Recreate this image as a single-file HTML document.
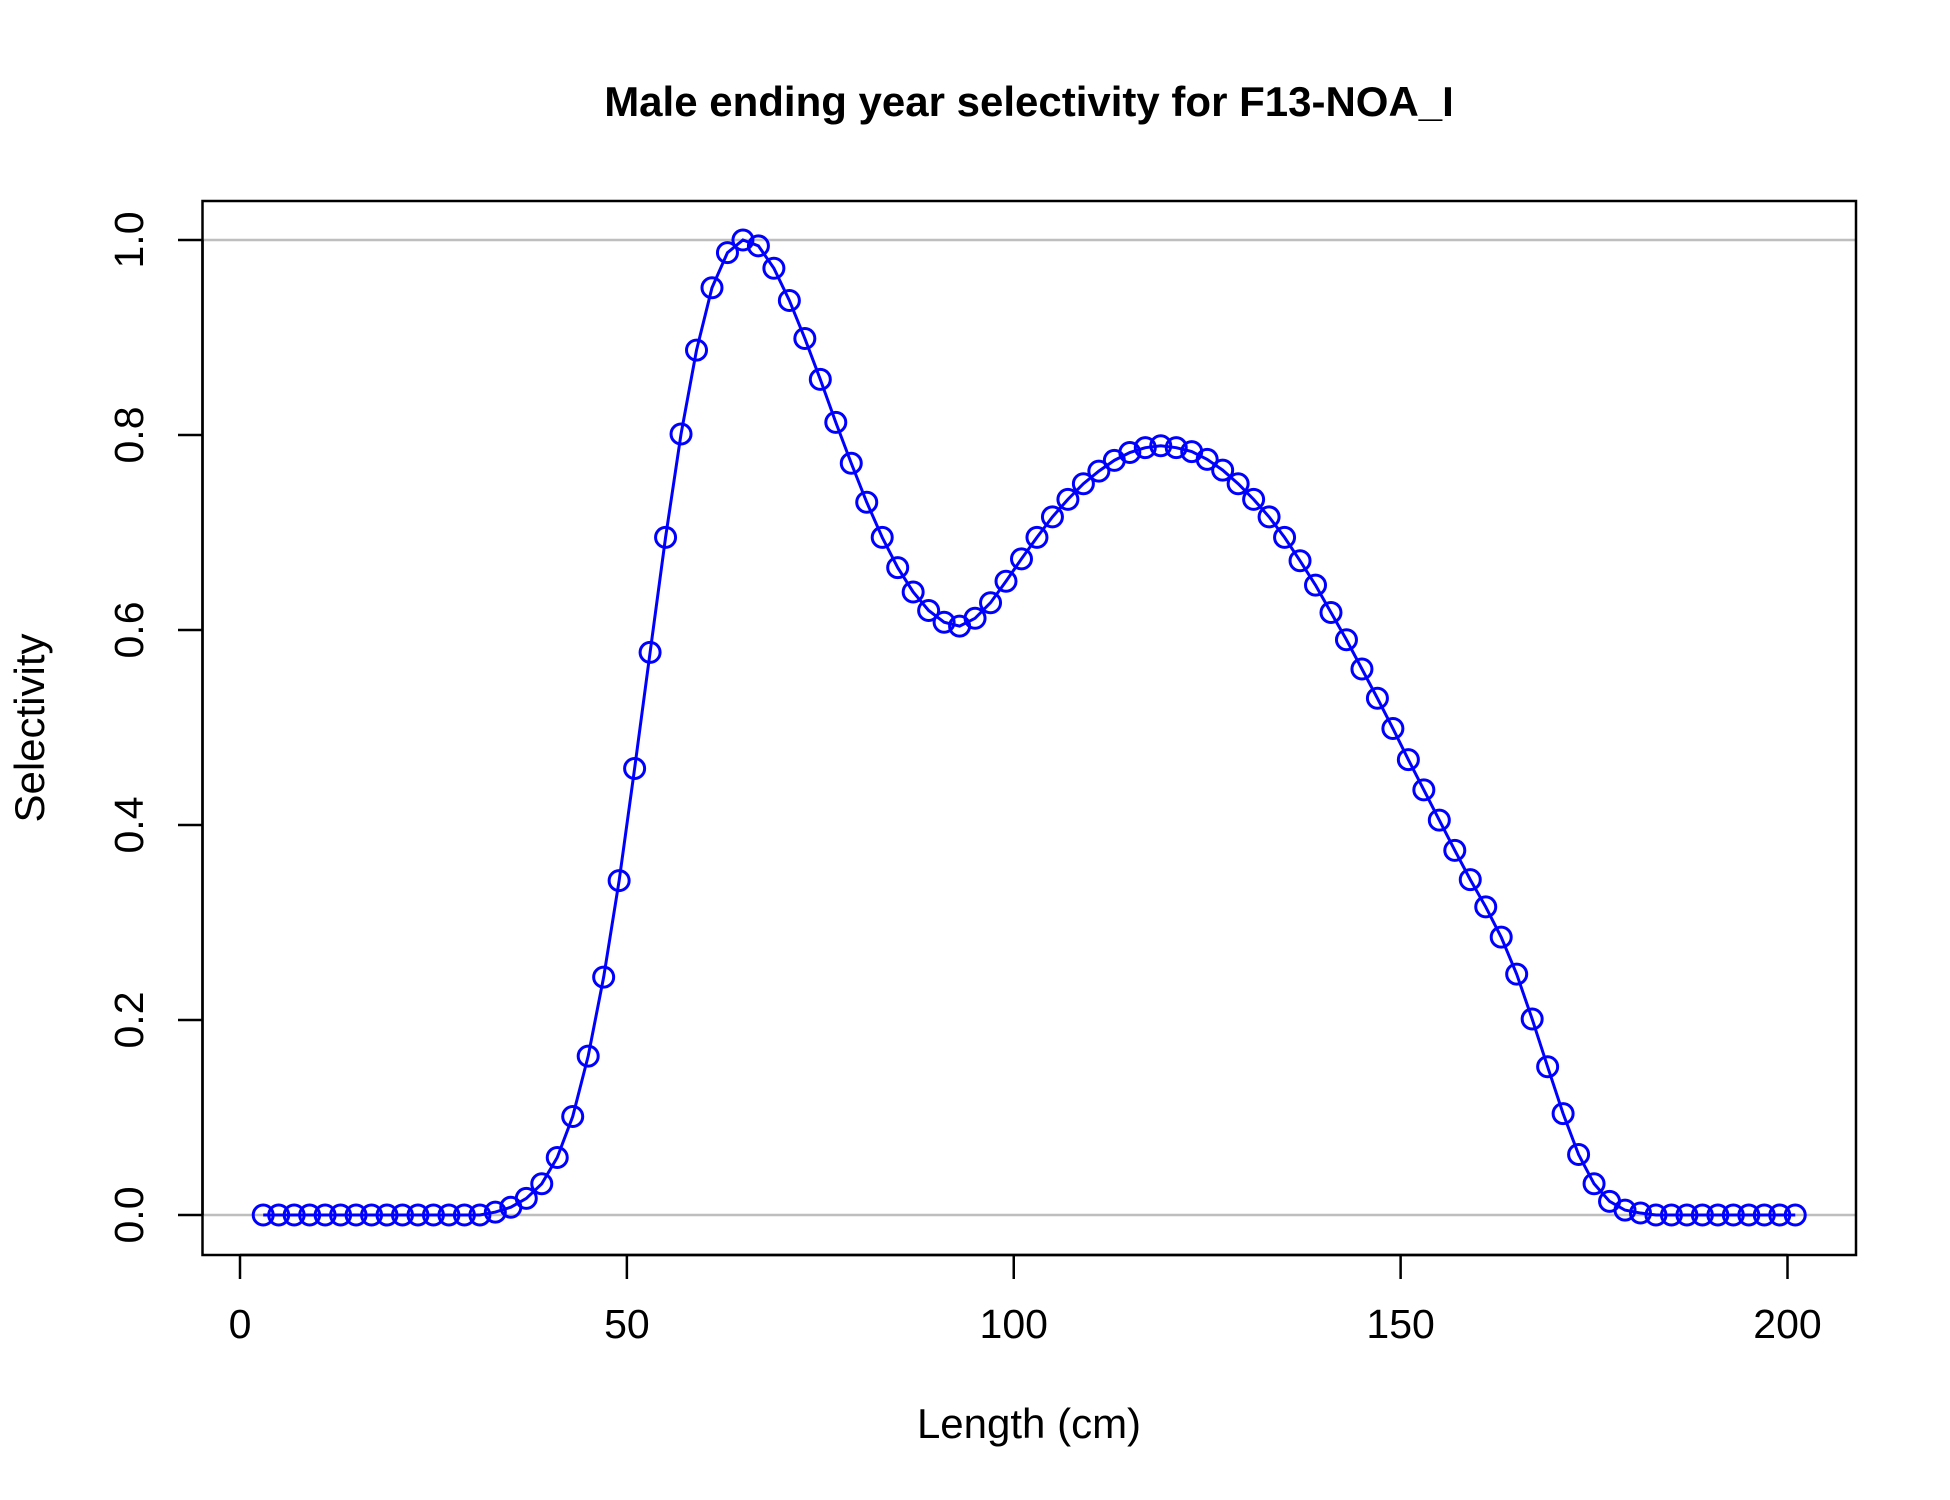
<!DOCTYPE html>
<html><head><meta charset="utf-8"><style>
html,body{margin:0;padding:0;background:#fff;}
svg{display:block;font-family:"Liberation Sans",Arial,sans-serif;}
</style></head><body>
<svg id="chart" width="1950" height="1500" viewBox="0 0 1950 1500">
<text x="1029" y="116" text-anchor="middle" font-weight="bold" font-size="42">Male ending year selectivity for F13-NOA_I</text>
<g id="grid"></g>
<g id="series"></g>
<rect x="202.5" y="201" width="1653.5" height="1054" fill="none" stroke="#000" stroke-width="2.5"/>
<g id="xaxis"></g>
<g id="yaxis"></g>
<text x="1029" y="1438" text-anchor="middle" font-size="42">Length (cm)</text>
<text transform="translate(44,728) rotate(-90)" text-anchor="middle" font-size="42">Selectivity</text>
</svg>
<script>
const lengths = [];
for (let l = 3; l <= 201; l += 2) lengths.push(l);
const selectivity = [0,0,0,0,0,0,0,0,0,0,0,0,0,0,0,0.003,0.008,0.017,0.032,0.059,0.101,0.163,0.244,0.343,0.458,0.577,0.695,0.801,0.887,0.951,0.987,1.0,0.994,0.971,0.938,0.899,0.857,0.813,0.771,0.731,0.695,0.664,0.639,0.620,0.608,0.604,0.612,0.628,0.650,0.673,0.695,0.716,0.734,0.750,0.763,0.774,0.782,0.787,0.789,0.787,0.783,0.775,0.764,0.750,0.734,0.716,0.695,0.671,0.646,0.618,0.590,0.560,0.530,0.499,0.467,0.436,0.405,0.374,0.344,0.316,0.285,0.247,0.201,0.152,0.104,0.062,0.032,0.014,0.005,0.002,0,0,0,0,0,0,0,0,0,0];
const xTicks = [0,50,100,150,200];
const yTicks = [0,0.2,0.4,0.6,0.8,1.0];
const yTickLabels = ["0.0","0.2","0.4","0.6","0.8","1.0"];
const refLines = [0,1];

const NS = "http://www.w3.org/2000/svg";
const X = v => 240 + (v - 0) * (1787.5 - 240) / 200;
const Y = v => 1215 - v * (1215 - 240);
function mk(tag, attrs, parent) {
  const e = document.createElementNS(NS, tag);
  for (const k in attrs) e.setAttribute(k, attrs[k]);
  parent.appendChild(e);
  return e;
}
const grid = document.getElementById('grid');
refLines.forEach(v => {
  const l = mk('line', {x1:202.5, x2:1856, y1:Y(v), y2:Y(v), stroke:'#bebebe', 'stroke-width':2.5}, grid);
  
  
});
const series = document.getElementById('series');
const pts = lengths.map((l, i) => X(l).toFixed(2) + ',' + Y(selectivity[i]).toFixed(2)).join(' ');
const pl = mk('polyline', {points: pts, fill:'none', stroke:'#0000ff', 'stroke-width':3}, series);


lengths.forEach((l, i) => {
  const c = mk('circle', {cx: X(l), cy: Y(selectivity[i]), r: 10, fill:'none', stroke:'#0000ff', 'stroke-width':3}, series);
  
  
});
const xa = document.getElementById('xaxis');
mk('line', {x1:X(xTicks[0]), x2:X(xTicks[xTicks.length-1]), y1:1255, y2:1255, stroke:'#000', 'stroke-width':2.5}, xa);
xTicks.forEach(t => {
  mk('line', {x1:X(t), x2:X(t), y1:1255, y2:1279, stroke:'#000', 'stroke-width':2.5}, xa);
  const tx = mk('text', {x:X(t), y:1338, 'text-anchor':'middle', 'font-size':41}, xa);
  tx.textContent = t;
  
  
});
const ya = document.getElementById('yaxis');
mk('line', {x1:202.5, x2:202.5, y1:Y(0), y2:Y(1), stroke:'#000', 'stroke-width':2.5}, ya);
yTicks.forEach((t, i) => {
  mk('line', {x1:178, x2:202.5, y1:Y(t), y2:Y(t), stroke:'#000', 'stroke-width':2.5}, ya);
  const tx = mk('text', {transform:'translate(143,' + Y(t) + ') rotate(-90)', 'text-anchor':'middle', 'font-size':41}, ya);
  tx.textContent = yTickLabels[i];
  
  
});
</script>
</body></html>
